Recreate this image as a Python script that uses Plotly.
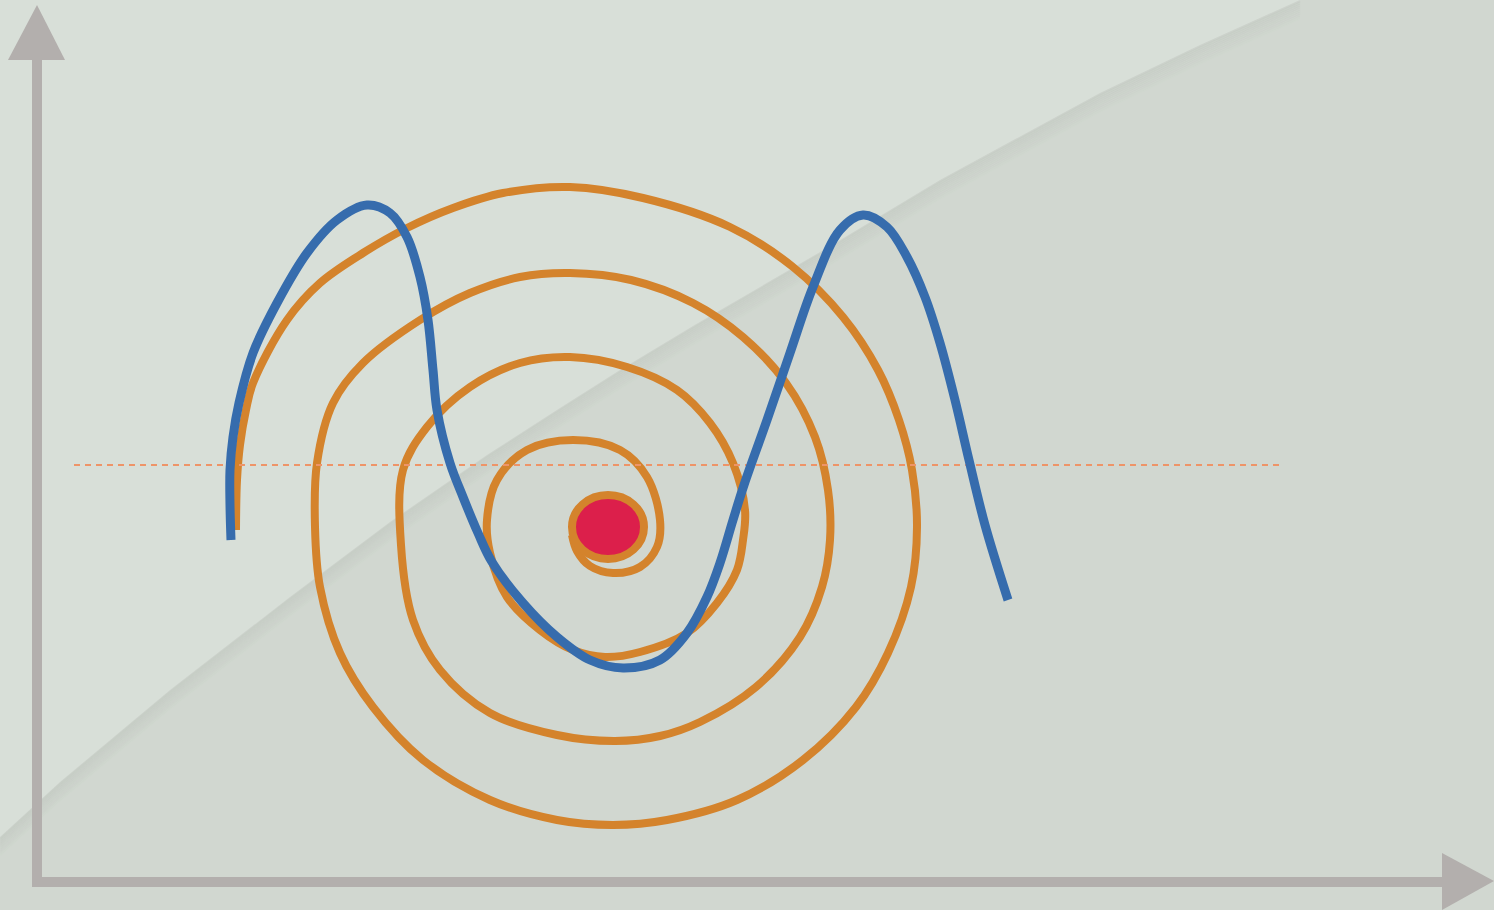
import plotly.graph_objects as go

# ---- data (pixel-space units, y grows downward) ----
spiral_x = [236, 237, 240, 246, 253, 287, 320, 363, 407, 453, 503, 570, 643, 730, 793, 843, 878, 899, 912, 917,
            911, 888, 856, 803, 737, 667, 613, 557, 490, 423, 373, 340, 320, 315, 317, 333, 363, 420, 470, 520,
            570, 631, 693, 743, 786, 815, 828, 830, 822, 800, 756, 700, 660, 615, 557, 490, 440, 413, 401, 403,
            427, 470, 520, 570, 627, 677, 710, 733, 745, 743, 737, 717, 687, 640, 605, 573, 540, 507, 490, 487,
            497, 527, 573, 620, 647, 660, 657, 640, 613, 590, 577, 572]
spiral_y = [530, 480, 445, 410, 383, 320, 283, 253, 228, 208, 193, 187, 198, 227, 267, 317, 370, 420, 470, 527,
            587, 653, 707, 760, 800, 820, 825, 820, 800, 760, 707, 653, 587, 527, 463, 403, 363, 320, 293, 277,
            273, 280, 303, 337, 383, 437, 490, 540, 587, 637, 687, 722, 736, 741, 735, 713, 670, 620, 545, 470,
            427, 387, 363, 357, 367, 390, 423, 463, 510, 540, 570, 603, 633, 652, 657, 650, 630, 597, 553, 520,
            480, 450, 440, 450, 477, 520, 547, 567, 573, 566, 551, 535]

wave_x = [231, 230, 230, 233, 239, 253, 277, 307, 337, 367, 390, 407, 420, 428, 433, 437, 450, 463, 478, 492, 523,
          557, 590, 623, 660, 687, 707, 720, 733, 744, 767, 790, 813, 840, 863, 887, 907, 925, 940, 955, 969,
          985, 1008]
wave_y = [540, 505, 470, 437, 403, 353, 303, 253, 220, 205, 213, 237, 277, 320, 370, 410, 463, 497, 533, 562, 603,
          637, 660, 668, 660, 633, 597, 563, 520, 485, 420, 353, 287, 230, 215, 227, 257, 297, 343, 400, 460,
          525, 600]

ref_x = [74, 1279]
ref_y = [465, 465]

dot_x = [608]
dot_y = [527]

W, H = 1494, 910
AXIS = "#b3afad"
ORANGE = "#d4832c"
BLUE = "#366cad"
RED = "#dc1f4b"

fig = go.Figure()

fig.add_trace(go.Scatter(x=spiral_x, y=spiral_y, mode="lines",
                         line=dict(color=ORANGE, width=8, shape="spline", smoothing=1.0),
                         hoverinfo="skip", showlegend=False))
fig.add_trace(go.Scatter(x=ref_x, y=ref_y, mode="lines",
                         line=dict(color="#ee9468", width=2, dash="6px,5px"),
                         hoverinfo="skip", showlegend=False))
fig.add_trace(go.Scatter(x=wave_x, y=wave_y, mode="lines",
                         line=dict(color=BLUE, width=9, shape="spline", smoothing=1.0),
                         hoverinfo="skip", showlegend=False))

shapes = []
# background: lighter upper-left region with soft shadow along its curved edge
bpts = [(0, 837), (60, 782), (170, 690), (290, 597), (390, 522), (487, 455), (560, 408), (620, 370),
        (693, 326), (827, 248), (940, 180), (1100, 93), (1200, 45), (1300, 0)]
for k in range(10):
    off = 1 + 2 * k
    op = 0.055 * (1 - k / 10)
    e = " ".join(("M" if i == 0 else "L") + f" {x},{y + off}" for i, (x, y) in enumerate(bpts))
    shapes.append(dict(type="path", path=e, xref="x", yref="y", layer="below",
                       line=dict(color=f"rgba(120,135,120,{op:.3f})", width=3)))
shapes.append(dict(type="path", path="M 0,0 L 1300,0 " + " ".join(f"L {x},{y}" for x, y in reversed(bpts)) + " Z",
                   xref="x", yref="y", layer="below", fillcolor="#d8dfd8", line=dict(width=0)))

# axes with arrow heads
shapes.append(dict(type="line", x0=37, x1=37, y0=58, y1=887, xref="x", yref="y",
                   line=dict(color=AXIS, width=10)))
shapes.append(dict(type="line", x0=32, x1=1444, y0=882, y1=882, xref="x", yref="y",
                   line=dict(color=AXIS, width=10)))
shapes.append(dict(type="path", path="M 37,5 L 65,60 L 8,60 Z", xref="x", yref="y",
                   fillcolor=AXIS, line=dict(width=0)))
shapes.append(dict(type="path", path="M 1442,853 L 1494,881 L 1442,910 Z", xref="x", yref="y",
                   fillcolor=AXIS, line=dict(width=0)))

# red centre dot with orange rim
rx, ry = 36, 32
shapes.append(dict(type="circle", xref="x", yref="y",
                   x0=dot_x[0] - rx, x1=dot_x[0] + rx, y0=dot_y[0] - ry, y1=dot_y[0] + ry,
                   fillcolor=RED, line=dict(color=ORANGE, width=8), layer="above"))

fig.update_layout(
    width=W, height=H,
    margin=dict(l=0, r=0, t=0, b=0),
    paper_bgcolor="#d1d7d0", plot_bgcolor="#d1d7d0",
    xaxis=dict(range=[0, W], visible=False, fixedrange=True),
    yaxis=dict(range=[H, 0], visible=False, fixedrange=True),
    shapes=shapes,
    showlegend=False,
)

fig.write_html("out.html",
               config={"displayModeBar": False},
               post_script="document.body.style.margin='0px';document.body.style.overflow='hidden';")
